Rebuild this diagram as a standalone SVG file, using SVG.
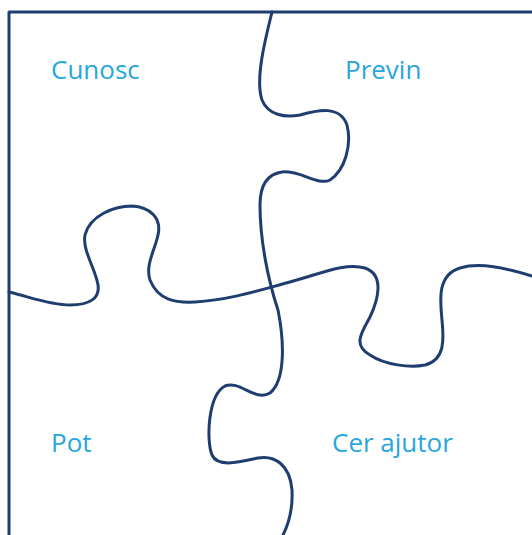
<svg xmlns="http://www.w3.org/2000/svg" width="532" height="535" viewBox="0 0 532 535">
<style>
.ln{fill:none;stroke:#1f3e70;stroke-width:3;stroke-linecap:round;stroke-linejoin:round}
.lb{font-family:"Open Sans","Noto Sans",sans-serif;font-size:26px;fill:#29a6db}
</style>
<rect width="532" height="535" fill="#fff"/>
<g id="connectors">
<path class="ln" d="M9,535 L9,12 L532,12"/>
<path class="ln" d="M272,12 C265,40 255,80 262,100 C268,115 285,118 300,115 C318,110 340,105 347,125 C352,145 345,170 330,180 C318,186 300,170 282,172 C268,174 260,185 260,205 C260,240 268,280 278,310 C284,340 286,380 270,393 C255,402 240,380 225,386 C208,395 206,440 212,455 C218,468 240,462 258,458 C275,455 290,465 292,490 C293,510 288,525 283,535"/>
<path class="ln" d="M9,292 C30,297 50,305 70,305 C90,305 100,298 98,285 C96,270 82,250 85,235 C90,215 115,206 132,206 C150,207 162,218 158,235 C155,250 145,265 150,280 C158,300 175,303 195,302 C230,300 260,290 290,282 C320,274 345,262 365,268 C385,275 378,300 370,317 C362,332 352,345 370,355 C385,365 410,368 425,365 C445,360 444,340 442,320 C440,300 437,275 460,268 C480,262 505,268 532,276"/>
</g>
<g id="cunosc"><text class="lb" x="51" y="79">Cunosc</text></g>
<g id="previn"><text class="lb" x="345" y="79">Previn</text></g>
<g id="pot"><text class="lb" x="51" y="452">Pot</text></g>
<g id="cer-ajutor"><text class="lb" x="332" y="452">Cer ajutor</text></g>
</svg>
